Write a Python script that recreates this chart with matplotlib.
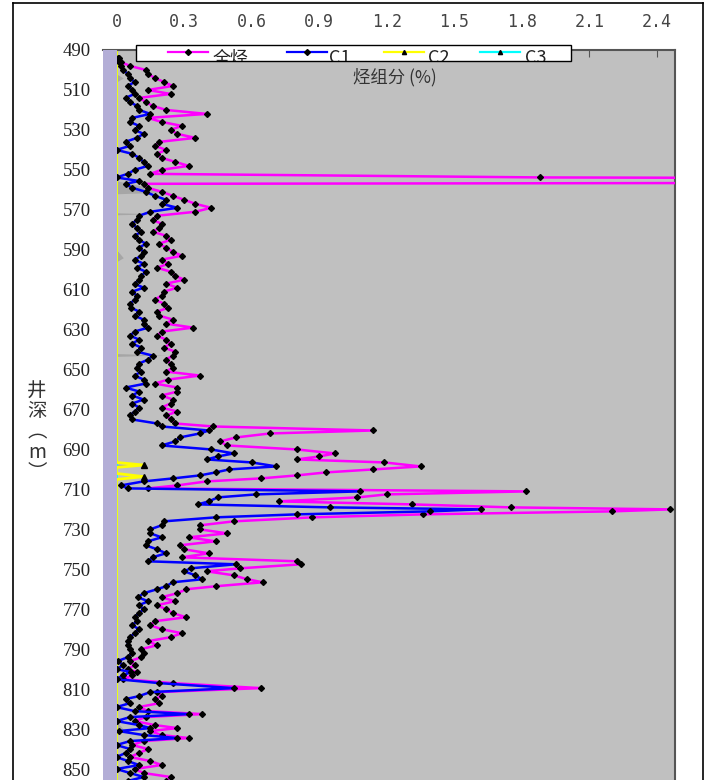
import matplotlib
matplotlib.use("Agg")
import matplotlib.pyplot as plt
from matplotlib.patches import Rectangle
from matplotlib.lines import Line2D

CJK = ["Noto Sans CJK SC", "DejaVu Sans"]

# depth (m) and hydrocarbon readings (%)
depth = [494, 496, 498, 500, 502, 504, 506, 508, 510, 512, 514, 516, 518, 520,
         522, 524, 526, 528, 530, 532, 534, 536, 538, 540, 542, 544, 546, 548,
         550, 552, 553.8, 555.6, 557, 559, 561, 563, 565, 567, 569, 571, 573,
         575, 577, 579, 581, 583, 585, 587, 589, 591, 593, 595, 597, 599, 601,
         603, 605, 607, 609, 611, 613, 615, 617, 619, 621, 623, 625, 627, 629,
         631, 633, 635, 637, 639, 641, 643, 645, 647, 649, 651, 653, 655, 657,
         659, 661, 663, 665, 667, 669, 671, 673, 675, 677, 678.5, 680.5, 682,
         684, 686, 688, 690, 692, 693.5, 695, 696.5, 698.5, 700, 701.5, 703,
         704.5, 706, 708, 709.5, 711, 712.5, 714, 716, 717.5, 719, 720, 721,
         722.5, 724, 726, 728, 730, 732, 734, 736, 738, 740, 742, 744, 746,
         747.5, 749.5, 751, 753, 755, 756.5, 758.5, 760, 762, 764, 766, 768,
         770, 772, 774, 776, 778, 780, 782, 784, 786, 788, 790, 792, 794, 796,
         798, 800, 801.5, 803, 805, 807, 809.5, 811.5, 813.5, 815, 817, 819,
         821, 822.5, 824, 826, 828, 829.5, 831, 833, 834.5, 836, 838, 840, 842,
         844, 846, 848, 850, 852, 854, 856]
total = [0.01, 0.02, 0.06, 0.13, 0.14, 0.17, 0.21, 0.25, 0.14, 0.24, 0.10, 0.13,
         0.16, 0.22, 0.40, 0.14, 0.20, 0.29, 0.24, 0.27, 0.35, 0.19, 0.17, 0.22,
         0.18, 0.20, 0.26, 0.32, 0.20, 0.15, 1.88, 9.0, 0.12, 0.14, 0.20, 0.25,
         0.30, 0.35, 0.42, 0.35, 0.18, 0.16, 0.20, 0.19, 0.16, 0.22, 0.24, 0.19,
         0.22, 0.25, 0.29, 0.20, 0.23, 0.18, 0.24, 0.26, 0.30, 0.22, 0.27, 0.21,
         0.20, 0.17, 0.21, 0.23, 0.18, 0.19, 0.25, 0.22, 0.34, 0.20, 0.18, 0.22,
         0.24, 0.21, 0.26, 0.25, 0.22, 0.24, 0.25, 0.22, 0.37, 0.23, 0.17, 0.27,
         0.27, 0.20, 0.25, 0.24, 0.20, 0.27, 0.22, 0.24, 0.26, 0.43, 1.14, 0.68,
         0.53, 0.46, 0.49, 0.80, 0.97, 0.90, 0.80, 1.19, 1.35, 1.14, 0.93, 0.80,
         0.64, 0.40, 0.27, 0.14, 1.82, 1.20, 1.07, 0.72, 1.31, 1.75, 2.46, 2.20,
         1.36, 0.87, 0.52, 0.37, 0.37, 0.49, 0.32, 0.44, 0.28, 0.30, 0.41, 0.29,
         0.80, 0.82, 0.55, 0.40, 0.52, 0.58, 0.65, 0.44, 0.31, 0.27, 0.20, 0.26,
         0.18, 0.22, 0.25, 0.31, 0.17, 0.15, 0.20, 0.29, 0.24, 0.14, 0.18, 0.11,
         0.12, 0.11, 0.06, 0.08, 0.05, 0.09, 0.07, 0.03, 0.25, 0.64, 0.18, 0.20,
         0.17, 0.19, 0.10, 0.14, 0.38, 0.13, 0.08, 0.17, 0.27, 0.15, 0.20, 0.32,
         0.12, 0.07, 0.14, 0.10, 0.06, 0.15, 0.20, 0.08, 0.12, 0.24, 0.22]
c1 = [0.005, 0.01, 0.02, 0.03, 0.05, 0.06, 0.08, 0.05, 0.07, 0.08, 0.04, 0.06,
      0.09, 0.10, 0.15, 0.07, 0.06, 0.10, 0.08, 0.12, 0.09, 0.04, 0.06, 0.00,
      0.07, 0.10, 0.12, 0.14, 0.08, 0.05, 0.00, 0.10, 0.04, 0.07, 0.13, 0.17,
      0.22, 0.20, 0.27, 0.15, 0.10, 0.09, 0.07, 0.09, 0.11, 0.08, 0.10, 0.13,
      0.10, 0.12, 0.11, 0.08, 0.12, 0.09, 0.13, 0.11, 0.10, 0.08, 0.12, 0.07,
      0.09, 0.08, 0.06, 0.065, 0.10, 0.08, 0.12, 0.12, 0.14, 0.08, 0.06, 0.10,
      0.07, 0.11, 0.09, 0.16, 0.14, 0.10, 0.09, 0.11, 0.08, 0.12, 0.13, 0.04,
      0.10, 0.07, 0.12, 0.07, 0.10, 0.08, 0.06, 0.07, 0.18, 0.20, 0.41, 0.37,
      0.28, 0.26, 0.20, 0.42, 0.52, 0.45, 0.40, 0.60, 0.71, 0.50, 0.44, 0.37,
      0.25, 0.12, 0.02, 0.05, 1.08, 0.62, 0.45, 0.41, 0.36, 0.95, 1.62, 1.39,
      0.80, 0.44, 0.21, 0.20, 0.15, 0.15, 0.20, 0.14, 0.13, 0.18, 0.22, 0.16,
      0.14, 0.53, 0.33, 0.30, 0.35, 0.38, 0.25, 0.22, 0.18, 0.12, 0.095, 0.14,
      0.10, 0.12, 0.10, 0.08, 0.09, 0.07, 0.10, 0.08, 0.06, 0.05, 0.05, 0.06,
      0.07, 0.05, 0.005, 0.03, 0.00, 0.065, 0.03, 0.00, 0.19, 0.52, 0.15, 0.10,
      0.04, 0.06, 0.00, 0.08, 0.32, 0.06, 0.00, 0.10, 0.15, 0.01, 0.12, 0.27,
      0.06, 0.00, 0.06, 0.04, 0.00, 0.05, 0.10, 0.00, 0.06, 0.12, 0.05]

c2_depth = [490, 696.5, 697.8, 699, 702, 703.6, 705, 856]
c2 = [0.0, 0.0, 0.12, 0.0, 0.0, 0.12, 0.0, 0.0]
c3_depth = [490, 856]
c3 = [0.0, 0.0]

# grey wedges near the depth axis
grey_depth = [490, 502, 504, 506, 555.5, 561, 562, 571.5, 572, 572.5, 590,
              594, 596, 642, 642.7, 643.4, 697.3, 697.8, 698.3, 826, 830, 832, 856]
grey = [0, 0, 0.03, 0, 0, 0.24, 0, 0, 0.18, 0, 0, 0.03, 0, 0, 0.22, 0, 0,
        0.09, 0, 0, 0.03, 0, 0]

xticks = [0, 0.3, 0.6, 0.9, 1.2, 1.5, 1.8, 2.1, 2.4]
yticks = list(range(490, 851, 20))

W, H = 708, 780
fig = plt.figure(figsize=(W / 100, H / 100), dpi=100)
ax = fig.add_axes([103 / W, 0, 572 / W, 1 - 50 / H])
ax.set_facecolor("#c0c0c0")

ax.fill_betweenx(grey_depth, 0, grey, color="#a6a6a6", lw=0, zorder=1)
ax.plot(c3, c3_depth, color="#00ffff", lw=1.2, zorder=2)
ax.plot(c2, c2_depth, color="#ffff00", lw=2, marker="^", ms=4.5,
        mfc="black", mec="black", zorder=2, markevery=[2, 5])
ax.plot(total, depth, color="#ff00ff", lw=1.8, marker="D", ms=3,
        mfc="black", mec="black", zorder=3)
ax.plot(c1, depth, color="#0000ff", lw=1.8, marker="D", ms=3,
        mfc="black", mec="black", zorder=4)
ax.axvspan(-0.06, 0.0, color="#b3aed6", lw=0, zorder=5)

ax.set_xlim(-0.06, 2.48)
ax.set_ylim(855.5, 490)
ax.xaxis.set_ticks_position("top")
ax.set_xticks(xticks)
ax.set_xticklabels([f"{v:g}" if v == 0 else f"{v:.1f}" for v in xticks],
                   family="DejaVu Sans Mono", fontsize=12, color="#444444")
ax.tick_params(axis="x", direction="in", length=5, pad=14, color="#555555")
ax.set_yticks(yticks)
ax.set_yticklabels([str(v) for v in yticks], family="Liberation Serif",
                   fontsize=13.5, color="#222222")
ax.tick_params(axis="y", length=0, pad=9)
for s in ["left", "bottom"]:
    ax.spines[s].set_visible(False)
for s in ["top", "right"]:
    ax.spines[s].set_color("#555555")
    ax.spines[s].set_linewidth(1.5)

# axis titles
fig.text(395 / W, 1 - 77 / H, "烃组分 (%)", family=CJK, fontsize=12.5,
         color="#333333", ha="center", va="center")
fig.text(37 / W, 1 - 432 / H, "井\n深\n︵\nm\n︶", family=CJK, fontsize=14,
         color="#333333", ha="center", va="center", linespacing=0.95)

# legend box (text is cut by the box edge, as in the source)
box = Rectangle((136 / W, 1 - 61 / H), 435 / W, 16 / H, transform=fig.transFigure,
                fc="white", ec="black", lw=1, zorder=10)
fig.add_artist(box)
entries = [("全烃", "#ff00ff", "D", 168, 213), ("C1", "#0000ff", "D", 287, 329),
           ("C2", "#ffff00", "^", 384, 428), ("C3", "#00ffff", "^", 480, 525)]
for name, col, mk, x0, xt in entries:
    y = 1 - 52 / H
    fig.add_artist(Line2D([x0 / W, (x0 + 40) / W], [y, y], color=col, lw=1.6,
                          transform=fig.transFigure, zorder=11))
    fig.add_artist(Line2D([(x0 + 20) / W], [y], marker=mk, ms=3, color="black",
                          transform=fig.transFigure, zorder=12))
    t = fig.text(xt / W, 1 - 49 / H, name, family=CJK, fontsize=13,
                 color="#222222", ha="left", va="top", zorder=12)
    t.set_clip_path(box)

# outer frame
for xs, ys in [([13, 13], [3, H]), ([13, 703], [3, 3]), ([703, 703], [3, H])]:
    fig.add_artist(Line2D([x / W for x in xs], [1 - y / H for y in ys],
                          color="black", lw=1.2, transform=fig.transFigure))

fig.savefig("out.png", dpi=100)
